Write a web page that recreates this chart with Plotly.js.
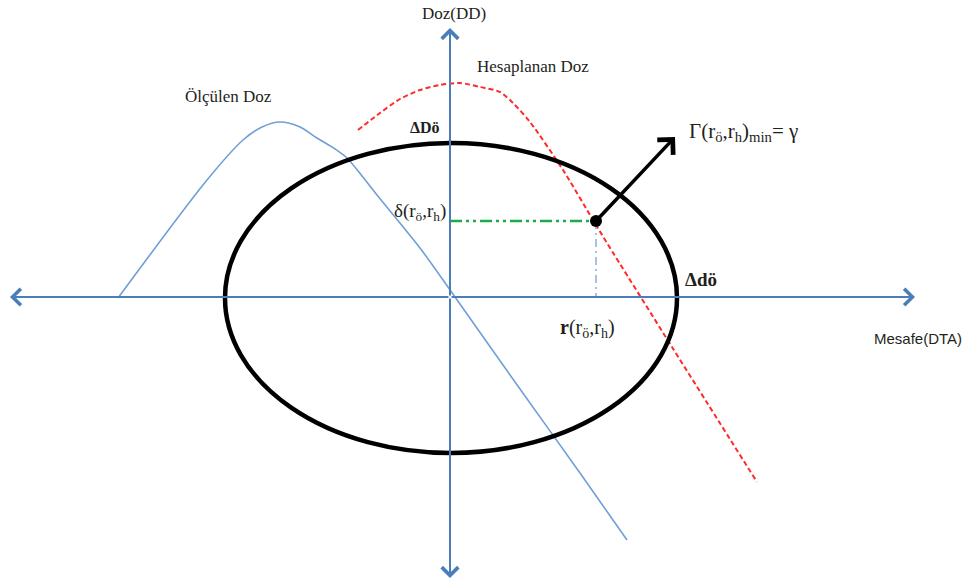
<!DOCTYPE html>
<html>
<head>
<meta charset="utf-8">
<script src="https://cdn.plot.ly/plotly-3.0.1.min.js"></script>
<style>
  html, body { margin: 0; padding: 0; background: #ffffff; }
  #chart { width: 968px; height: 585px; }
</style>
</head>
<body>
<div id="chart"></div>
<script>
// Ölçülen doz profili (mesafe, doz)
const measuredX = [-332, -243, -207, -188, -170, -150, -133, -118, -103, -88, -73, -30, 5, 70, 130, 177];
const measuredY = [-1, 117, 157, 170, 175, 170, 159, 150, 139, 121, 102, 49, 0, -92, -176, -243];

// Hesaplanan doz profili (mesafe, doz)
const calcX = [-92, -70, -50, -30, -10, 10, 30, 50, 63, 80, 113, 143, 157, 222, 307];
const calcY = [167, 184, 198, 207, 212, 214, 210, 205, 194, 175, 127, 77, 54, -50, -185];

// Gama noktası: r(rö,rh) ve δ(rö,rh)
const gammaR = 146;
const gammaDelta = 76;
// Gama vektörünün ucu
const gammaTip = [225, 160];

// Kabul elipsi: Δdö (yatay) ve ΔDö (dikey) sınırları
const ellipseX = [-225, 227];
const ellipseY = [-156, 154];

// Eksen uçları
const axisX = [-440, 465];
const axisY = [-281, 269];

const axisBlue = '#4a7ebb';
const serif = 'Liberation Serif, Times New Roman, serif';
const textCol = '#231f1a';

const traces = [
  {
    x: measuredX, y: measuredY, mode: 'lines', type: 'scatter',
    line: { color: '#6f9fd6', width: 1.6, shape: 'spline', smoothing: 0.8 },
    hoverinfo: 'skip'
  },
  {
    x: calcX, y: calcY, mode: 'lines', type: 'scatter',
    line: { color: '#ff2a2a', width: 2, dash: '5px,3px', shape: 'spline', smoothing: 0.8 },
    hoverinfo: 'skip'
  },
  {
    x: [0, gammaR], y: [gammaDelta, gammaDelta], mode: 'lines', type: 'scatter',
    line: { color: '#1faa4a', width: 2.5, dash: '12px,4px,3px,4px,3px,4px' },
    hoverinfo: 'skip'
  },
  {
    x: [gammaR, gammaR], y: [gammaDelta, 0], mode: 'lines', type: 'scatter',
    line: { color: '#8fb2de', width: 1.6, dash: '8px,4px,2px,4px' },
    hoverinfo: 'skip'
  }
];

const markerTrace = {
  x: [gammaR], y: [gammaDelta], mode: 'markers', type: 'scatter',
  marker: { color: '#000000', size: 12 },
  hoverinfo: 'skip'
};

function arrow(hx, hy, tx, ty, color, width, size) {
  return {
    x: hx, y: hy, ax: tx, ay: ty, xref: 'x', yref: 'y', axref: 'x', ayref: 'y',
    text: '', showarrow: true, arrowhead: 4, arrowsize: size, arrowwidth: width,
    arrowcolor: color, standoff: 0, startstandoff: 0
  };
}

function label(text, x, y, xanchor, size, extra) {
  return Object.assign({
    x: x, y: y, xref: 'x', yref: 'y', text: text, showarrow: false,
    xanchor: xanchor, yanchor: 'middle',
    font: { family: serif, size: size, color: textCol }
  }, extra || {});
}

const annotations = [
  arrow(axisX[0], 0, 0, 0, axisBlue, 2, 1.6),
  arrow(axisX[1], 0, 0, 0, axisBlue, 2, 1.6),
  arrow(0, axisY[1], 0, 0, axisBlue, 2, 1.6),
  arrow(0, axisY[0], 0, 0, axisBlue, 2, 1.6),
  arrow(gammaTip[0], gammaTip[1], gammaR, gammaDelta, '#000000', 3.5, 1.2),

  label('Doz(DD)', 4, 284, 'center', 17),
  label('Hesaplanan Doz', 25, 231, 'left', 17),
  label('Ölçülen Doz', -222, 201, 'center', 17),
  label('<b>ΔDö</b>', -25, 170, 'center', 16),
  label('Γ(r<sub>ö</sub>,r<sub>h</sub>)<sub>min</sub>= γ', 237, 165, 'left', 21),
  label('δ(r<sub>ö</sub>,r<sub>h</sub>)', -2, 85, 'right', 19),
  label('<b>r</b>(r<sub>ö</sub>,r<sub>h</sub>)', 137, -31, 'center', 20),
  label('<b>Δdö</b>', 233, 18, 'left', 19),
  label('Mesafe(DTA)', 422, -41, 'left', 15,
        { font: { family: 'Liberation Sans, Arial, sans-serif', size: 15, color: textCol } })
];

const layout = {
  width: 968, height: 585,
  margin: { l: 0, r: 0, t: 0, b: 0 },
  paper_bgcolor: '#ffffff', plot_bgcolor: '#ffffff',
  showlegend: false,
  xaxis: { range: [-450, 518], visible: false, fixedrange: true },
  yaxis: { range: [-288, 297], visible: false, fixedrange: true },
  shapes: [
    {
      type: 'circle', xref: 'x', yref: 'y',
      x0: ellipseX[0], x1: ellipseX[1], y0: ellipseY[0], y1: ellipseY[1],
      line: { color: '#000000', width: 4.5 }, layer: 'above'
    }
  ],
  annotations: annotations
};

Plotly.newPlot('chart', traces.concat([markerTrace]), layout, { staticPlot: true, displayModeBar: false });
</script>
</body>
</html>
